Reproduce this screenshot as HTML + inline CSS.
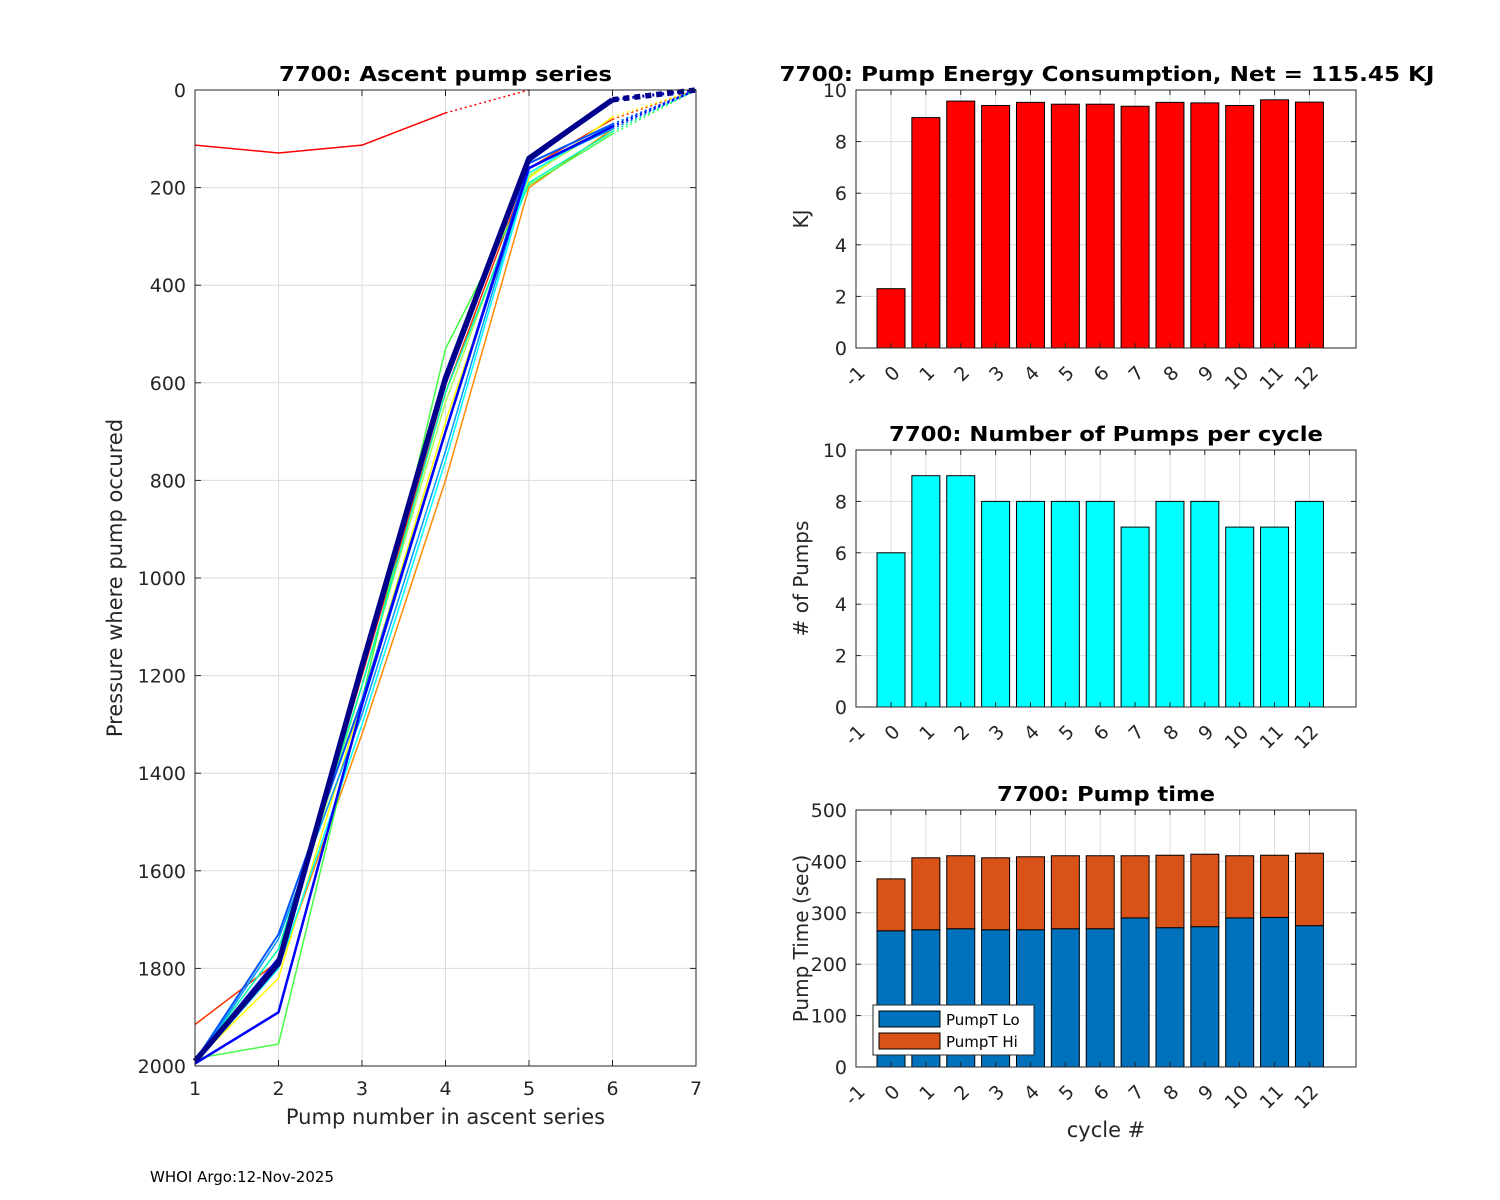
<!DOCTYPE html>
<html><head><meta charset="utf-8"><style>
html,body{margin:0;padding:0;background:#fff;}
svg{display:block;font-family:"DejaVu Sans","Liberation Sans",sans-serif;}
</style></head><body>
<svg id="fig" width="1500" height="1200" viewBox="0 0 1500 1200" xmlns="http://www.w3.org/2000/svg">
<rect width="1500" height="1200" fill="#fff"/>
<text x="150" y="1182" font-size="15" fill="#000">WHOI Argo:12-Nov-2025</text>
</svg>
<script>
// ---------- data ----------
const cycleLabels = ["-1","0","1","2","3","4","5","6","7","8","9","10","11","12"];
const energyKJ = [2.3, 8.93, 9.57, 9.4, 9.52, 9.45, 9.45, 9.37, 9.52, 9.5, 9.4, 9.62, 9.53];
const pumpCounts = [6, 9, 9, 8, 8, 8, 8, 7, 8, 8, 7, 7, 8];
const pumpTLo = [265, 267, 269, 267, 267, 269, 269, 290, 271, 273, 290, 291, 275];
const pumpTHi = [101, 140, 142, 140, 142, 142, 142, 121, 141, 141, 121, 121, 141];
const energyTicks = [0,2,4,6,8,10];
const pumpTicks = [0,2,4,6,8,10];
const timeTicks = [0,100,200,300,400,500];
const ascentXTicks = [1,2,3,4,5,6,7];
const ascentYTicks = [0,200,400,600,800,1000,1200,1400,1600,1800,2000];
const seriesColors = ["#ff0000","#ff3300","#ff8c00","#ffff00","#aaff55","#44ff44","#00ffaa","#00ffff","#0099ff","#0055ff","#0000ff","#0000cc","#00008b"];
const seriesWidths = [1.5,1.5,1.5,1.5,1.5,1.5,1.5,1.5,1.5,2,2.5,3,5.5];
const seriesSolid = [
 [113,129,113,47],
 [1915,1785,1200,620,160,60],
 [1990,1800,1320,800,200,80],
 [1990,1820,1250,680,180,55],
 [1985,1790,1220,640,175,70],
 [1985,1955,1250,530,195,90],
 [1990,1760,1220,620,190,85],
 [1995,1800,1300,760,170,70],
 [1995,1740,1280,740,160,80],
 [1990,1730,1250,700,150,70],
 [1995,1890,1260,700,160,75],
 [1990,1780,1190,600,145,20],
 [1990,1790,1180,590,140,20]
];
const seriesTail = [[0],[0],[0],[0],[0],[0],[0],[0],[0],[0],[0],[0],[0]];

// ---------- helpers ----------
const NS="http://www.w3.org/2000/svg";
const svg=document.getElementById('fig');
function mk(tag,attrs,parent){const e=document.createElementNS(NS,tag);for(const k in attrs)e.setAttribute(k,attrs[k]);(parent||svg).appendChild(e);return e;}
function txt(s,attrs,parent){const e=mk('text',attrs,parent);e.textContent=s;return e;}

function axesFrame(g,L,T,R,B){
  mk('rect',{x:L,y:T,width:R-L,height:B-T,fill:'none',stroke:'#262626','stroke-width':1},g);
}

// ---------- left: ascent pump series ----------
(function(){
  const L=195,R=696,T=90,B=1066;
  const g=mk('g',{});
  
  
  const sx=v=>L+(v-1)/(7-1)*(R-L);
  const sy=v=>T+v/2000*(B-T);
  ascentXTicks.forEach(t=>{
    mk('line',{x1:sx(t),x2:sx(t),y1:T,y2:B,stroke:'#dcdcdc','stroke-width':1},g);
    mk('line',{x1:sx(t),x2:sx(t),y1:B,y2:B-6,stroke:'#262626'},g);
    mk('line',{x1:sx(t),x2:sx(t),y1:T,y2:T+6,stroke:'#262626'},g);
    const e=txt(String(t),{x:sx(t),y:B+29,'font-size':19,'text-anchor':'middle',fill:'#262626'},g);
    
    
  });
  ascentYTicks.forEach(t=>{
    mk('line',{x1:L,x2:R,y1:sy(t),y2:sy(t),stroke:'#dcdcdc','stroke-width':1},g);
    mk('line',{x1:L,x2:L+6,y1:sy(t),y2:sy(t),stroke:'#262626'},g);
    mk('line',{x1:R,x2:R-6,y1:sy(t),y2:sy(t),stroke:'#262626'},g);
    const e=txt(String(t),{x:L-9,y:sy(t)+7,'font-size':19,'text-anchor':'end',fill:'#262626'},g);
    
    
  });
  seriesSolid.forEach((vals,i)=>{
    const pts=vals.map((v,j)=>sx(j+1)+','+sy(v)).join(' ');
    const pl=mk('polyline',{points:pts,fill:'none',stroke:seriesColors[i],'stroke-width':seriesWidths[i],'stroke-linejoin':'round'},g);
    
    
    const start=vals.length;
    const tailPts=[sx(start)+','+sy(vals[start-1])].concat(seriesTail[i].map((v,j)=>sx(start+j+1)+','+sy(v))).join(' ');
    const tl=mk('polyline',{points:tailPts,fill:'none',stroke:seriesColors[i],'stroke-width':seriesWidths[i],'stroke-dasharray':seriesWidths[i]>4?'6,5':'2,3'},g);
    
    
  });
  axesFrame(g,L,T,R,B);
  const t=txt('7700: Ascent pump series',{x:(L+R)/2,y:T-9,'font-size':20,'font-weight':'bold','text-anchor':'middle',fill:'#000',textLength:333,lengthAdjust:'spacingAndGlyphs'},g);
  
  
  const xl=txt('Pump number in ascent series',{x:(L+R)/2,y:B+58,'font-size':21,'text-anchor':'middle',fill:'#262626'},g);
  
  
  const yl=txt('Pressure where pump occured',{x:0,y:0,'font-size':21,'text-anchor':'middle',fill:'#262626',transform:'translate(122,'+((T+B)/2)+') rotate(-90)'},g);
  
  
})();

// ---------- right bar charts ----------
function barChart(opts){
  const L=856,R=1356,T=opts.T,B=opts.B;
  const g=mk('g',{});
  
  
  const x0=891;
  const bx=i=>x0+i*34.87;
  const ymax=opts.ticks[opts.ticks.length-1];
  const sy=v=>B-v/ymax*(B-T);
  for(let i=0;i<13;i++){
    mk('line',{x1:bx(i),x2:bx(i),y1:T,y2:B,stroke:'#dcdcdc'},g);
  }
  opts.ticks.forEach(t=>{
    mk('line',{x1:L,x2:R,y1:sy(t),y2:sy(t),stroke:'#dcdcdc'},g);
    mk('line',{x1:L,x2:L+5,y1:sy(t),y2:sy(t),stroke:'#262626'},g);
    mk('line',{x1:R,x2:R-5,y1:sy(t),y2:sy(t),stroke:'#262626'},g);
    const e=txt(String(t),{x:L-9,y:sy(t)+7,'font-size':19,'text-anchor':'end',fill:'#262626'},g);
    
    
  });
  const bw=28;
  opts.series.forEach((ser,si)=>{
    ser.vals.forEach((v,i)=>{
      const base=si>0?opts.series.slice(0,si).reduce((a,s)=>a+s.vals[i],0):0;
      const r=mk('rect',{x:bx(i)-bw/2,y:sy(base+v),width:bw,height:sy(base)-sy(base+v),fill:ser.color,stroke:'#000','stroke-width':1},g);
      
      
    });
  });
  for(let i=0;i<13;i++){
    mk('line',{x1:bx(i),x2:bx(i),y1:B,y2:B-5,stroke:'#262626'},g);
    mk('line',{x1:bx(i),x2:bx(i),y1:T,y2:T+5,stroke:'#262626'},g);
  }
  cycleLabels.forEach((s,k)=>{
    const ax=bx(k-1)+10, ay=B+26;
    const e=txt(s,{x:ax,y:ay,'font-size':19,'text-anchor':'end',fill:'#262626',transform:'rotate(-45 '+ax+' '+ay+')'},g);
    
    
  });
  axesFrame(g,L,T,R,B);
  const tattrs={x:opts.titleX||(L+R)/2,y:T-9,'font-size':20,'font-weight':'bold','text-anchor':'middle',fill:'#000'};
  if(opts.titleLen){tattrs.textLength=opts.titleLen;tattrs.lengthAdjust='spacingAndGlyphs';}
  const t=txt(opts.title,tattrs,g);
  
  
  const yl=txt(opts.ylabel,{x:0,y:0,'font-size':20,'text-anchor':'middle',fill:'#262626',transform:'translate(808,'+((T+B)/2)+') rotate(-90)'},g);
  
  
  return {g,L,R,T,B};
}

barChart({name:'energy-chart',T:90,B:348,ticks:energyTicks,title:'7700: Pump Energy Consumption,  Net = 115.45 KJ',titleX:1107,titleLen:655,ylabel:'KJ',
  series:[{name:'energy',vals:energyKJ,color:'#ff0000'}]});
barChart({name:'pump-count-chart',T:450,B:707,ticks:pumpTicks,title:'7700: Number of Pumps per cycle',titleLen:434,ylabel:'# of Pumps',
  series:[{name:'pump-count',vals:pumpCounts,color:'#00ffff'}]});
barChart({name:'pump-time-chart',T:810,B:1067,ticks:timeTicks,title:'7700: Pump time',titleLen:218,ylabel:'Pump Time (sec)',
  series:[{name:'pumpt-lo',vals:pumpTLo,color:'#0072bd'},{name:'pumpt-hi',vals:pumpTHi,color:'#d95319'}]});

// legend
(function(){
  const g=mk('g',{});
  
  
  mk('rect',{x:873,y:1005,width:161,height:50,fill:'#fff',stroke:'#262626','stroke-width':1},g);
  mk('rect',{x:879,y:1011,width:61,height:16,fill:'#0072bd',stroke:'#000'},g);
  mk('rect',{x:879,y:1033,width:61,height:16,fill:'#d95319',stroke:'#000'},g);
  const a=txt('PumpT Lo',{x:946,y:1025,'font-size':15,fill:'#000'},g);
  
  
  const b=txt('PumpT Hi',{x:946,y:1047,'font-size':15,fill:'#000'},g);
  
  
})();
const xt=txt('cycle #',{x:1106,y:1137,'font-size':21,'text-anchor':'middle',fill:'#262626'});


</script>
</body></html>
